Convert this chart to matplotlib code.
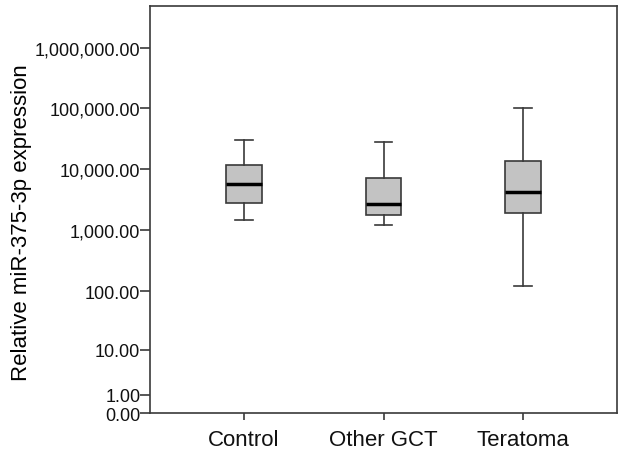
import numpy as np
import matplotlib
matplotlib.use("Agg")
import matplotlib.pyplot as plt
from matplotlib.ticker import FixedLocator, FuncFormatter

groups = ["Control", "Other GCT", "Teratoma"]
whislo = [1470, 1240, 122]
q1 = [2780, 1810, 1910]
med = [5740, 2740, 4300]
q3 = [12000, 7270, 13600]
whishi = [30000, 27800, 102500]
yticks = [0, 1, 10, 100, 1000, 10000, 100000, 1000000]

plt.rcParams["font.family"] = ["Liberation Sans", "DejaVu Sans"]

stats = [dict(label=g, whislo=a, q1=b, med=c, q3=d, whishi=e, fliers=[])
         for g, a, b, c, d, e in zip(groups, whislo, q1, med, q3, whishi)]

fig = plt.figure(figsize=(6.18, 4.52), dpi=100)
ax = fig.add_axes([150 / 618, 1 - 414.3 / 452, 467 / 618, 407.3 / 452])
ax.set_yscale("function", functions=(lambda v: np.log10(np.clip(v, 0, None) + 1),
                                     lambda t: 10 ** t - 1))

edge = "#3a3a3a"
ax.bxp(stats, positions=[1, 2, 3], widths=0.255, patch_artist=True,
       boxprops=dict(facecolor="#c3c3c3", edgecolor=edge, lw=1.2),
       whiskerprops=dict(color=edge, lw=1.2),
       capprops=dict(color=edge, lw=1.2),
       medianprops=dict(color="black", lw=2.5),
       capwidths=0.127, showfliers=False)

ax.set_xlim(0.33, 3.67)
ax.set_ylim(0, 4.8e6)
ax.yaxis.set_major_locator(FixedLocator(yticks))
ax.yaxis.set_minor_locator(FixedLocator([]))
ax.yaxis.set_major_formatter(FuncFormatter(lambda v, p: f"{v:,.2f}"))
ax.set_ylabel("Relative miR-375-3p expression", fontsize=16)
ax.yaxis.set_label_coords(-0.252, 0.471)

for s in ax.spines.values():
    s.set_color(edge)
    s.set_linewidth(1.2)
ax.tick_params(axis="y", labelsize=13, color=edge, width=1.2, length=7,
               pad=0, labelcolor="#111111")
ax.tick_params(axis="x", labelsize=16, color=edge, width=1.2, length=5,
               pad=6, labelcolor="#111111")

fig.savefig("out.png", dpi=100)
